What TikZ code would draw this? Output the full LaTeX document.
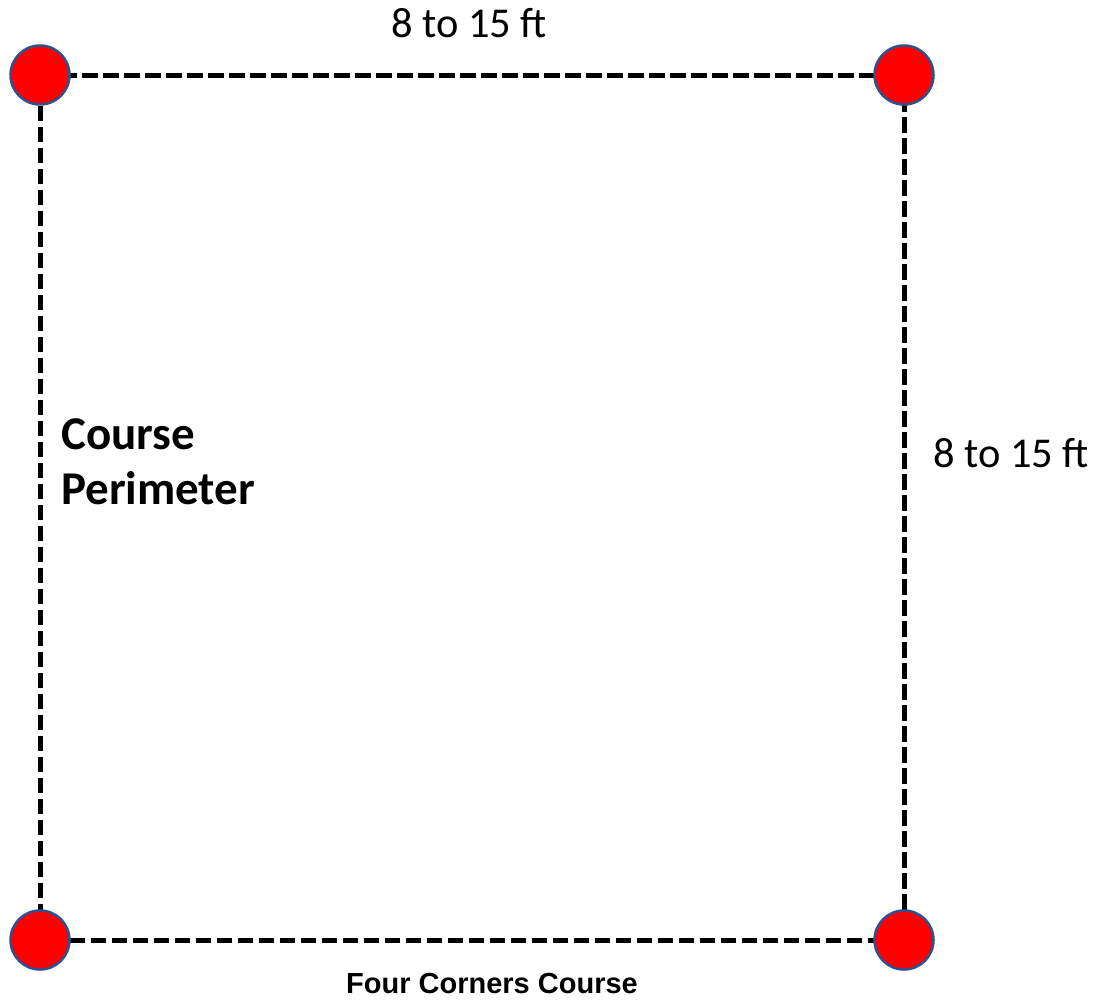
\documentclass[tikz,border=0pt]{standalone}
\usepackage{fontspec}
\setmainfont{Carlito}
\newfontfamily\arialfont{Liberation Sans}
\definecolor{cornerline}{RGB}{47,82,143}
\begin{document}
\begin{tikzpicture}[x=1pt,y=-1pt,
  corner/.style={circle,fill=red,draw=cornerline,line width=2.5pt,minimum size=59pt,inner sep=0pt},
  edge/.style={line width=5pt,dash pattern=on 15.5pt off 5.5pt},
  lbl/.style={inner sep=0pt,font=\fontsize{42.5}{50}\selectfont},
  bold/.style={anchor=base west,inner sep=0pt,font=\bfseries\fontsize{47}{55}\selectfont}]
\useasboundingbox (0,0) rectangle (1102,1002);
% course edges
\coordinate (tl) at (40,75);
\coordinate (tr) at (904,75);
\coordinate (bl) at (40,940);
\coordinate (br) at (904,940);
\draw[edge] (tl) -- (tr);
\draw[edge] (tr) -- (br);
\draw[edge] (br) -- (bl);
\draw[edge] (bl) -- (tl);
% corner markers
\node[corner] (ctl) at (tl) {};
\node[corner] (ctr) at (tr) {};
\node[corner] (cbl) at (bl) {};
\node[corner] (cbr) at (br) {};
% labels
\node[lbl,anchor=base] (top) at (469,37) {8 to 15 ft};
\node[lbl,anchor=base west] (side) at (933,467) {8 to 15 ft};
\node[bold] (course) at (61,449) {Course};
\node[bold] (perim) at (61,504) {Perimeter};
\node[anchor=base,inner sep=0pt,font=\arialfont\bfseries\fontsize{29}{34}\selectfont] (title) at (492,993) {Four Corners Course};
\end{tikzpicture}
\end{document}
